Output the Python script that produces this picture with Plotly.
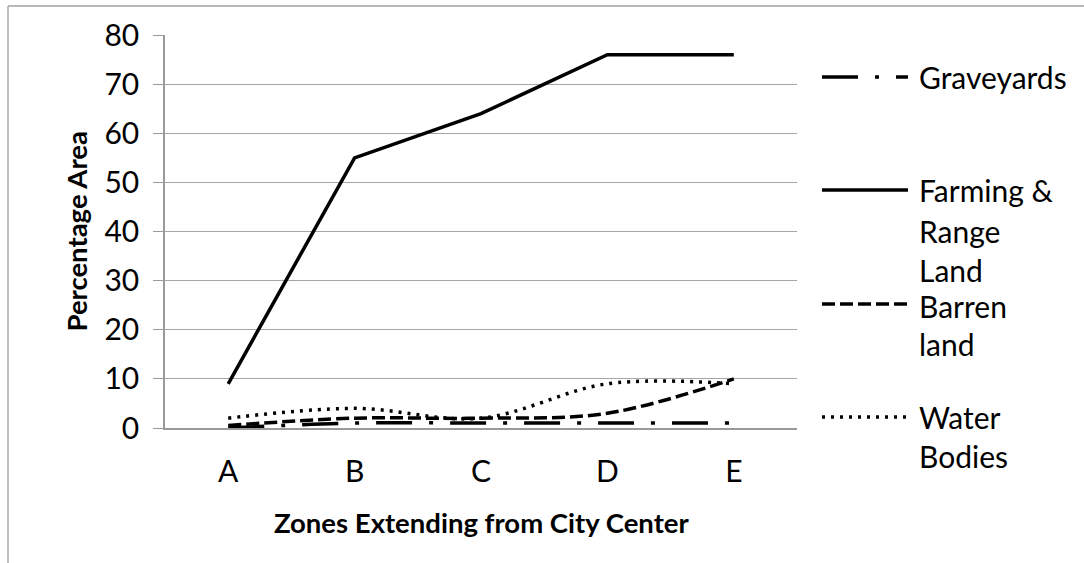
import plotly.graph_objects as go

# ---- data ----
zones = ["A", "B", "C", "D", "E"]
graveyards = [0, 1, 1, 1, 1]
farming = [9, 55, 64, 76, 76]
barren = [0.5, 2, 2, 3, 10]
water = [2, 4, 2, 9, 9]
y_ticks = [0, 10, 20, 30, 40, 50, 60, 70, 80]

# ---- layout geometry (pixels) ----
W, H = 1084, 563
L, R, T, B = 165, 797, 35, 428


def px_x(x):
    return (x - L) / (R - L)


def px_y(y):
    return (B - y) / (B - T)


FONT = "Lato"
GRID = "#a6a6a6"
AXIS = "#9a9a9a"

dash_grave = "36px,17px,4px,17px"
dash_barren = "13px,5px"
dash_water = "3px,6px"
LW = 3.5

fig = go.Figure()
fig.add_trace(go.Scatter(x=zones, y=graveyards, mode="lines", name="Graveyards",
                         line=dict(color="black", width=LW, dash=dash_grave, shape="spline")))
fig.add_trace(go.Scatter(x=zones, y=farming, mode="lines", name="Farming & Range Land",
                         line=dict(color="black", width=LW, shape="linear")))
fig.add_trace(go.Scatter(x=zones, y=barren, mode="lines", name="Barren land",
                         line=dict(color="black", width=LW, dash=dash_barren, shape="spline")))
fig.add_trace(go.Scatter(x=zones, y=water, mode="lines", name="Water Bodies",
                         line=dict(color="black", width=LW, dash=dash_water, shape="spline")))

shapes = []
annotations = []

# outer chart border (top & left visible)
shapes.append(dict(type="line", xref="paper", yref="paper",
                   x0=px_x(8), x1=px_x(W + 20), y0=px_y(6), y1=px_y(6),
                   line=dict(color="#a0a0a0", width=1.3)))
shapes.append(dict(type="line", xref="paper", yref="paper",
                   x0=px_x(8), x1=px_x(8), y0=px_y(6), y1=px_y(H + 20),
                   line=dict(color="#a0a0a0", width=1.3)))

# manual legend
legend_lines_y = [77, 190, 304, 417]
legend_dashes = [dash_grave, "solid", dash_barren, dash_water]
legend_text = [["Graveyards"], ["Farming &", "Range", "Land"], ["Barren", "land"], ["Water", "Bodies"]]
legend_text_y = [[77], [190, 231, 270], [306, 344], [417, 456]]
for ly, dsh, txts, tys in zip(legend_lines_y, legend_dashes, legend_text, legend_text_y):
    shapes.append(dict(type="line", xref="paper", yref="paper",
                       x0=px_x(822), x1=px_x(908), y0=px_y(ly), y1=px_y(ly),
                       line=dict(color="black", width=LW, dash=dsh)))
    for t, ty in zip(txts, tys):
        annotations.append(dict(text=t, xref="paper", yref="paper", x=px_x(917), y=px_y(ty),
                                xanchor="left", yanchor="middle", showarrow=False,
                                font=dict(family=FONT, size=30, color="black")))

# axis titles
annotations.append(dict(text="<b>Zones Extending from City Center</b>", xref="paper", yref="paper",
                        x=px_x(481.5), y=px_y(522), xanchor="center", yanchor="middle",
                        showarrow=False, font=dict(family=FONT, size=27.5, color="black")))
annotations.append(dict(text="<b>Percentage Area</b>", xref="paper", yref="paper",
                        x=px_x(76), y=0.5, xanchor="center", yanchor="middle", textangle=-90,
                        showarrow=False, font=dict(family=FONT, size=27.5, color="black")))

fig.update_layout(
    width=W, height=H,
    margin=dict(l=L, r=W - R, t=T, b=H - B, pad=0),
    paper_bgcolor="white", plot_bgcolor="white",
    showlegend=False,
    shapes=shapes, annotations=annotations,
    font=dict(family=FONT, size=30, color="black"),
)
fig.update_xaxes(type="category", range=[-0.5, 4.5], showgrid=False,
                 showline=True, linecolor=AXIS, linewidth=1.5,
                 ticks="", tickfont=dict(family=FONT, size=30, color="black"),
                 ticklabelstandoff=16, zeroline=False)
fig.update_yaxes(range=[0, 80], tickvals=y_ticks, showgrid=True, gridcolor=GRID, gridwidth=1.3,
                 showline=True, linecolor=AXIS, linewidth=1.5,
                 ticks="outside", ticklen=10, tickcolor=AXIS, tickwidth=1.3,
                 tickfont=dict(family=FONT, size=30, color="black"),
                 ticklabelstandoff=8, zeroline=False)

fig.write_html("out.html", config={"displayModeBar": False},
               post_script="document.body.style.margin='0';document.body.style.padding='0';")
